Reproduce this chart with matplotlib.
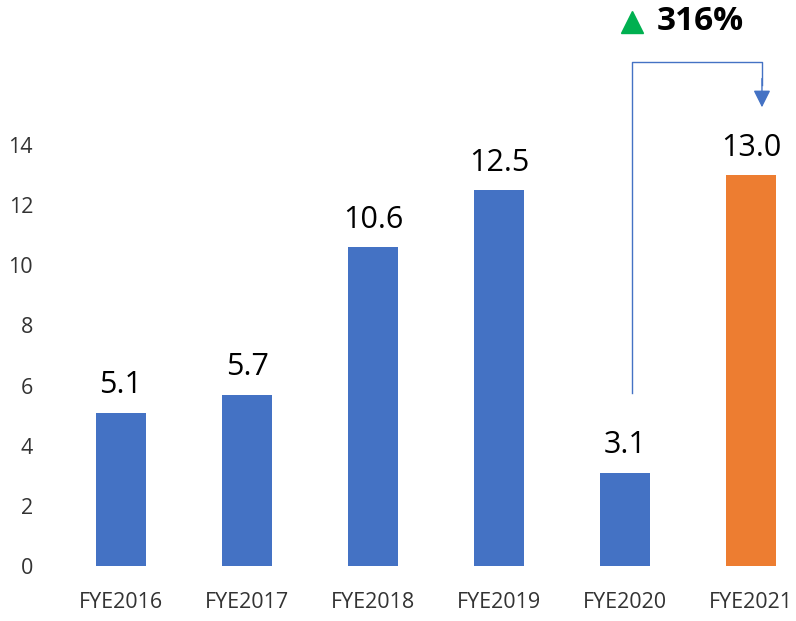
import matplotlib.pyplot as plt
import numpy as np

plt.rcParams['font.family'] = ['Open Sans', 'DejaVu Sans']

years = ['FYE2016', 'FYE2017', 'FYE2018', 'FYE2019', 'FYE2020', 'FYE2021']
values = [5.1, 5.7, 10.6, 12.5, 3.1, 13.0]
growth = '316%'

blue = '#4472C4'
orange = '#ED7D31'
colors = [blue] * 5 + [orange]

fig = plt.figure(figsize=(7.96, 6.21), dpi=100)
ax = fig.add_axes([58 / 796, 55 / 621, 738 / 796, 566 / 621])

x = np.arange(len(years))
ax.bar(x, values, width=0.4, color=colors)
for xi, v in zip(x, values):
    ax.annotate('%.1f' % v, (xi, v), xytext=(0, 9), textcoords='offset points',
                ha='center', va='bottom', fontsize=22)

ax.set_xlim(-0.5, -0.5 + 738 / 126)
ax.set_ylim(0, 18.82)
ax.set_yticks(range(0, 15, 2))
ax.set_xticks(x)
ax.set_xticklabels(years)
ax.tick_params(axis='both', length=0, labelsize=15.5, labelcolor='#333333')
ax.tick_params(axis='y', pad=18)
ax.tick_params(axis='x', pad=19)
for s in ax.spines.values():
    s.set_visible(False)

# connector from FYE2020 to FYE2021
x0 = 4.056
x1 = 5.087
ax.plot([x0, x0, x1, x1], [5.75, 16.76, 16.76, 16.0], color=blue, lw=1, clip_on=False)
ax.annotate('', xy=(x1, 15.16), xytext=(x1, 16.3),
            arrowprops=dict(arrowstyle='-|>', color=blue, lw=1, mutation_scale=26),
            annotation_clip=False)
ax.plot([x0], [18.1], marker='^', color='#00B050', markersize=16, clip_on=False)
ax.text(4.25, 18.1, growth, fontsize=24, fontweight='bold', ha='left', va='center')

fig.savefig('out.png', dpi=100)
